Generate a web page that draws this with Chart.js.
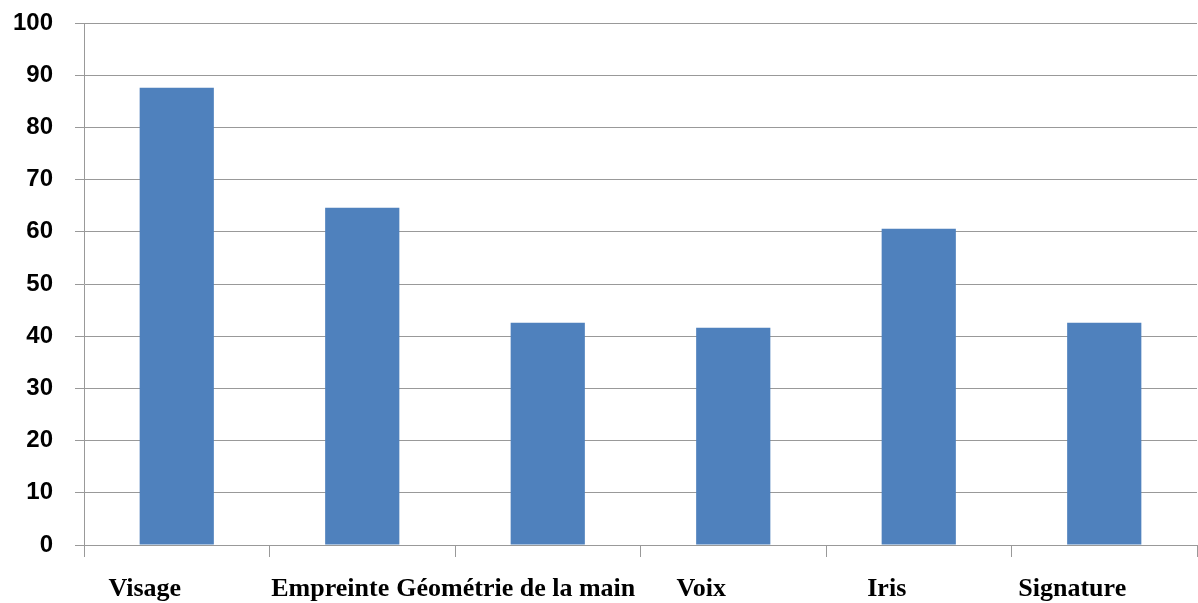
<!DOCTYPE html>
<html>
<head>
<meta charset="utf-8">
<script src="https://cdn.jsdelivr.net/npm/chart.js@4"></script>
<style>
  body { margin: 0; background: #fff; }
  #wrap { width: 1198px; height: 603px; }
</style>
</head>
<body>
<div id="wrap"><canvas id="myChart" width="1198" height="603"></canvas></div>
<script>
// categories and values
const categories = ["Visage", "Empreinte", "Géométrie de la main", "Voix", "Iris", "Signature"];
const values = [87.6, 64.6, 42.6, 41.6, 60.6, 42.6];
const yTicks = [0, 10, 20, 30, 40, 50, 60, 70, 80, 90, 100];

const ctx = document.getElementById('myChart').getContext('2d');
const chart = new Chart(ctx, {
    type: 'bar',
    data: {
        labels: categories,
        datasets: [{
            data: values,
            backgroundColor: '#4F81BD',
            categoryPercentage: 1.0,
            barPercentage: 0.4
        }]
    },
    options: {
        responsive: false,
        animation: false,
        layout: { padding: { top: 23, right: 1, left: 0, bottom: 0 } },
        plugins: { legend: { display: false }, tooltip: { enabled: false } },
        scales: {
            x: {
                grid: {
                    offset: true,
                    drawOnChartArea: false,
                    drawTicks: true,
                    tickLength: 12,
                    color: '#999'
                },
                border: { color: '#999' },
                ticks: {
                    color: '#000',
                    labelOffset: -32,
                    padding: 17,
                    maxRotation: 0,
                    autoSkip: false,
                    font: { family: '"Liberation Serif", "Times New Roman", serif', size: 26, weight: 'bold' }
                },
                afterFit: function (scale) { scale.height = 58; }
            },
            y: {
                min: 0,
                max: 100,
                afterBuildTicks: function (scale) {
                    scale.ticks = yTicks.map(v => ({ value: v }));
                },
                grid: { color: '#999', tickLength: 9 },
                border: { color: '#999' },
                ticks: {
                    color: '#000',
                    padding: 22,
                    font: { family: '"Liberation Sans", Arial, sans-serif', size: 24, weight: 'bold' }
                },
                afterFit: function (scale) {
                    scale.width = 84;
                    scale.paddingTop = 0;
                    scale.paddingBottom = 0;
                }
            }
        }
    }
});
</script>
</body>
</html>
